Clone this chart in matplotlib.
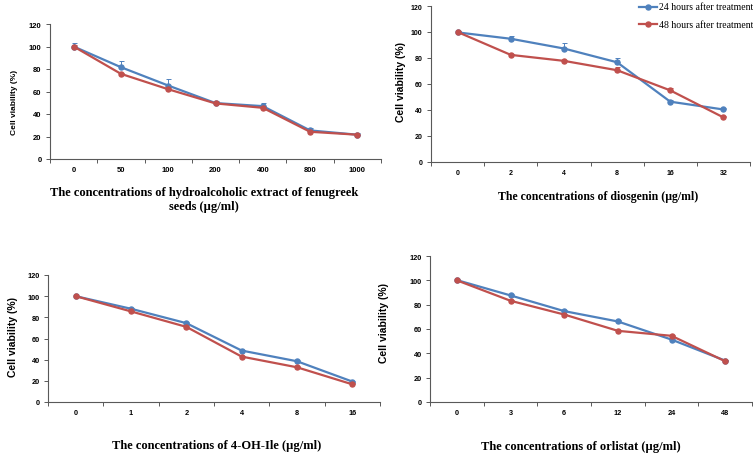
import numpy as np
import matplotlib
matplotlib.use('Agg')
import matplotlib.pyplot as plt

W, H = 753, 456
BLUE = '#4F81BD'
RED = '#C0504D'

# fenugreek extract
fen_x = ['0', '50', '100', '200', '400', '800', '1000']
fen_24 = [100, 81.6, 65.3, 49.7, 47, 25.4, 21.6]
fen_24_err = [3.5, 5.5, 5.7, 2.3, 2.5, 1.8, 1.2]
fen_48 = [100, 75.7, 62, 49.4, 45.5, 24.2, 21.6]
fen_48_err = [1, 1, 1, 1, 1, 1, 0.8]

# diosgenin
dio_x = ['0', '2', '4', '8', '16', '32']
dio_24 = [99.7, 94.8, 87.3, 76.7, 46.4, 40.4]
dio_24_err = [0.8, 2.3, 4.6, 3, 1, 0.8]
dio_48 = [100, 82.4, 77.8, 70.6, 55.1, 34.3]
dio_48_err = [0.5, 1, 1, 2.5, 2, 0.8]

# 4-OH-Ile
ile_x = ['0', '1', '2', '4', '8', '16']
ile_24 = [100, 88.1, 74.5, 48.6, 38.5, 19.3]
ile_24_err = [0.5, 0.8, 0.8, 0.8, 0.8, 0.8]
ile_48 = [100, 85.6, 71, 42.9, 32.8, 16.7]
ile_48_err = [0.5, 0.8, 0.8, 0.8, 0.8, 0.8]

# orlistat
orl_x = ['0', '3', '6', '12', '24', '48']
orl_24 = [100.2, 87.6, 74.7, 66.2, 51.3, 34]
orl_24_err = [0.5, 0.8, 0.8, 0.8, 0.8, 0.8]
orl_48 = [100, 83.2, 71.9, 58.5, 54.4, 33.5]
orl_48_err = [0.5, 0.8, 0.8, 0.8, 0.8, 0.8]

serif = 'Liberation Serif'
sans = 'Liberation Sans'


def px_axes(fig, left, right, top, bottom):
    return fig.add_axes([left / W, 1 - bottom / H, (right - left) / W, (bottom - top) / H])


def fig_text(fig, x, y, s, **kw):
    fig.text(x / W, 1 - y / H, s, ha='center', va='center', **kw)


def panel(ax, cats, y24, e24, y48, e48, tick_size):
    n = len(cats)
    xs = np.arange(n)
    for y, e, c in [(y24, e24, BLUE), (y48, e48, RED)]:
        ax.errorbar(xs, y, yerr=[np.zeros(n), e], fmt='none', ecolor=c,
                    elinewidth=0.7, capsize=1.8, capthick=0.7, zorder=2)
        ax.plot(xs, y, color=c, lw=1.6, marker='o', ms=3.6, zorder=3)
    ax.set_xlim(-0.5, n - 0.5)
    ax.set_ylim(0, 120)
    ax.set_yticks(range(0, 121, 20))
    ax.set_xticks(xs)
    ax.set_xticklabels(cats)
    ax.set_xticks(np.arange(n + 1) - 0.5, minor=True)
    ax.tick_params(axis='x', which='major', length=0, pad=5)
    ax.tick_params(axis='x', which='minor', length=3, width=0.7, color='#595959', direction='out')
    ax.tick_params(axis='y', length=3, width=0.7, color='#595959', direction='out', pad=3)
    for lab in ax.get_xticklabels() + ax.get_yticklabels():
        lab.set_fontfamily(sans)
        lab.set_fontweight('bold')
        lab.set_fontsize(tick_size)
    for s in ['top', 'right']:
        ax.spines[s].set_visible(False)
    for s in ['left', 'bottom']:
        ax.spines[s].set_color('#595959')
        ax.spines[s].set_linewidth(0.8)


fig = plt.figure(figsize=(W / 100, H / 100), dpi=100)

ax1 = px_axes(fig, 50, 381, 25, 160)
panel(ax1, fen_x, fen_24, fen_24_err, fen_48, fen_48_err, 5.5)
fig_text(fig, 15, 102, 'Cell viability (%)', rotation=90, family=sans, weight='bold', fontsize=6)
fig_text(fig, 204, 193, 'The concentrations of hydroalcoholic extract of fenugreek',
         family=serif, weight='bold', fontsize=9)
fig_text(fig, 204, 207, 'seeds (µg/ml)', family=serif, weight='bold', fontsize=9)

ax2 = px_axes(fig, 431, 750, 7, 163)
panel(ax2, dio_x, dio_24, dio_24_err, dio_48, dio_48_err, 5)
fig_text(fig, 401, 82, 'Cell viability (%)', rotation=90, family=sans, weight='bold', fontsize=7.5)
fig_text(fig, 598, 197, 'The concentrations of diosgenin (µg/ml)', family=serif, weight='bold', fontsize=8.5)

ax3 = px_axes(fig, 48, 380, 276, 403)
panel(ax3, ile_x, ile_24, ile_24_err, ile_48, ile_48_err, 5.3)
fig_text(fig, 13, 337, 'Cell viability (%)', rotation=90, family=sans, weight='bold', fontsize=7.5)
fig_text(fig, 217, 446, 'The concentrations of 4-OH-Ile (µg/ml)', family=serif, weight='bold', fontsize=9)

ax4 = px_axes(fig, 430, 752, 257, 403)
panel(ax4, orl_x, orl_24, orl_24_err, orl_48, orl_48_err, 5.3)
fig_text(fig, 384, 323, 'Cell viability (%)', rotation=90, family=sans, weight='bold', fontsize=7.5)
fig_text(fig, 581, 447, 'The concentrations of orlistat (µg/ml)', family=serif, weight='bold', fontsize=9)

# legend in the top-right corner
leg_ax = fig.add_axes([0, 0, 1, 1], facecolor='none')
leg_ax.set_axis_off()
leg_ax.set_xlim(0, W)
leg_ax.set_ylim(H, 0)
for ly, c, label in [(8, BLUE, '24 hours after treatment'), (25, RED, '48 hours after treatment')]:
    leg_ax.plot([639, 657], [ly, ly], color=c, lw=1.6)
    leg_ax.plot([648], [ly], color=c, marker='o', ms=3.6)
    leg_ax.text(659, ly, label, family=serif, fontsize=7, va='center', ha='left')

fig.savefig('out.png', dpi=100)
